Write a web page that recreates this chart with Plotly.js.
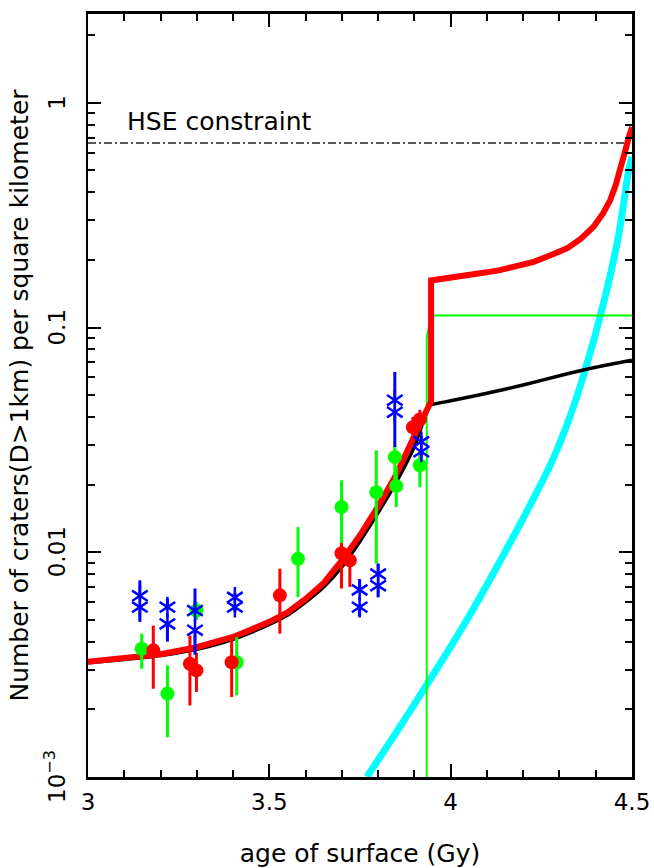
<!DOCTYPE html>
<html>
<head>
<meta charset="utf-8">
<script src="https://cdn.plot.ly/plotly-3.0.1.min.js"></script>
<style>html,body{margin:0;padding:0;background:#fff;}#chart{width:654px;height:868px;}</style>
</head>
<body>
<div id="chart"></div>
<script>
// ---- data ----
const blackT = [3.00, 3.10, 3.20, 3.30, 3.40, 3.50, 3.55, 3.60, 3.65, 3.70, 3.75, 3.80, 3.85, 3.90, 3.938, 3.945, 4.00, 4.10, 4.20, 4.30, 4.40, 4.50];
const blackN = [0.00322, 0.00333, 0.00347, 0.00370, 0.00410, 0.00478, 0.00525, 0.00600, 0.00700, 0.00860, 0.0112, 0.0150, 0.0205, 0.0295, 0.0440, 0.0452, 0.0472, 0.0510, 0.0555, 0.0610, 0.0665, 0.0715];

const redCurveT = [3.00, 3.10, 3.20, 3.30, 3.40, 3.50, 3.55, 3.60, 3.65, 3.70, 3.75, 3.80, 3.85, 3.90, 3.935, 3.946, 3.946, 4.00, 4.044, 4.10, 4.136, 4.18, 4.229, 4.27, 4.321, 4.36, 4.394, 4.42, 4.440, 4.455, 4.468, 4.48, 4.491, 4.50];
const redCurveN = [0.00326, 0.00337, 0.00352, 0.00378, 0.00420, 0.00490, 0.00540, 0.00620, 0.00730, 0.0092, 0.0119, 0.0160, 0.0222, 0.0330, 0.0440, 0.0470, 0.162, 0.166, 0.171, 0.176, 0.180, 0.187, 0.196, 0.208, 0.225, 0.249, 0.281, 0.322, 0.369, 0.43, 0.502, 0.60, 0.70, 0.78];

const cyanT = [3.769, 3.85, 3.934, 4.00, 4.063, 4.136, 4.229, 4.28, 4.321, 4.367, 4.422, 4.463, 4.491, 4.50];
const cyanN = [0.00100, 0.00158, 0.00257, 0.00380, 0.00562, 0.00912, 0.0174, 0.0255, 0.0370, 0.0617, 0.129, 0.257, 0.501, 0.575];

const greenStepT = [3.934, 3.934, 3.946, 4.50];
const greenStepN = [0.0009, 0.090, 0.113, 0.113];

const hseT = [3.0, 4.5];
const hseN = [0.663, 0.663];

const redT  = [3.180, 3.281, 3.299, 3.396, 3.529, 3.699, 3.722, 3.896, 3.915];
const redN  = [0.00366, 0.00319, 0.00298, 0.00324, 0.00643, 0.0099, 0.0092, 0.036, 0.039];
const redHi = [0.00472, 0.00426, 0.00357, 0.00419, 0.00845, 0.0110, 0.0105, 0.040, 0.043];
const redLo = [0.00247, 0.00208, 0.00239, 0.00227, 0.00434, 0.0069, 0.0070, 0.031, 0.035];

const greenT  = [3.148, 3.219, 3.299, 3.410, 3.579, 3.699, 3.795, 3.846, 3.850, 3.915];
const greenN  = [0.00372, 0.00235, 0.00551, 0.00324, 0.00936, 0.0159, 0.0185, 0.0265, 0.0197, 0.0244];
const greenHi = [0.00434, 0.00314, 0.0060, 0.00419, 0.01294, 0.0209, 0.0284, 0.030, 0.024, 0.0284];
const greenLo = [0.00303, 0.00150, 0.0050, 0.00231, 0.00632, 0.0102, 0.0089, 0.020, 0.0159, 0.0195];

const blueT  = [3.143, 3.143, 3.219, 3.219, 3.295, 3.295, 3.405, 3.405, 3.749, 3.749, 3.800, 3.800, 3.846, 3.846, 3.919, 3.919];
const blueN  = [0.0064, 0.0057, 0.0057, 0.0048, 0.0055, 0.0045, 0.0063, 0.0057, 0.0068, 0.0057, 0.0080, 0.0071, 0.0475, 0.0420, 0.0310, 0.0280];
const blueHi = [0.0075, 0.0057, 0.0062, 0.0048, 0.0069, 0.0045, 0.0066, 0.0057, 0.0076, 0.0057, 0.0089, 0.0071, 0.0634, 0.0420, 0.0330, 0.0280];
const blueLo = [0.0064, 0.0049, 0.0057, 0.0040, 0.0055, 0.0035, 0.0063, 0.0054, 0.0068, 0.0052, 0.0080, 0.0063, 0.0475, 0.0294, 0.0310, 0.0262];

const yTickVals = [0.001, 0.01, 0.1, 1];
const yTickText = ['10<sup>\u22123</sup>', '0.01', '0.1', '1'];
const xTickVals = [3, 3.5, 4, 4.5];
const xTickText = ['3', '3.5', '4', '4.5'];

// ---- build ----
const up = (hi, v) => hi.map((h, i) => Math.max(0, h - v[i]));
const dn = (lo, v) => lo.map((l, i) => Math.max(0, v[i] - l));
const FONT = 'DejaVu Sans, sans-serif';

const traces = [
  {x: hseT, y: hseN, mode: 'lines', line: {color: '#222', width: 1.5, dash: '8px,3px,2px,3px'}, hoverinfo: 'skip'},
  {x: cyanT, y: cyanN, mode: 'lines', line: {color: '#00ffff', width: 7, shape: 'spline', smoothing: 0.8}},
  {x: greenStepT, y: greenStepN, mode: 'lines', line: {color: '#00ff00', width: 2}},
  {x: blackT, y: blackN, mode: 'lines', line: {color: '#000', width: 3.5, shape: 'spline', smoothing: 0.6}},
  {x: redCurveT, y: redCurveN, mode: 'lines', line: {color: '#ff0000', width: 6, shape: 'linear'}},
  {x: greenT, y: greenN, mode: 'markers', marker: {symbol: 'circle', size: 14, color: '#00ff00'},
   error_y: {type: 'data', symmetric: false, array: up(greenHi, greenN), arrayminus: dn(greenLo, greenN), color: '#00ff00', thickness: 3, width: 0}},
  {x: redT, y: redN, mode: 'markers', marker: {symbol: 'circle', size: 14, color: '#ff0000'},
   error_y: {type: 'data', symmetric: false, array: up(redHi, redN), arrayminus: dn(redLo, redN), color: '#ff0000', thickness: 3, width: 0}},
  {x: blueT, y: blueN, mode: 'markers', marker: {symbol: 'y-up-open', size: 13, color: '#0000ff', line: {color: '#0000ff', width: 2.5}},
   error_y: {type: 'data', symmetric: false, array: up(blueHi, blueN), arrayminus: dn(blueLo, blueN), color: '#0000ff', thickness: 3, width: 0}},
  {x: blueT, y: blueN, mode: 'markers', marker: {symbol: 'y-down-open', size: 13, color: '#0000ff', line: {color: '#0000ff', width: 2.5}}}
];

const annotations = [{
  x: 3.102, y: Math.log10(0.823), xref: 'x', yref: 'y', xanchor: 'left', yanchor: 'middle',
  text: 'HSE constraint', showarrow: false, font: {family: FONT, size: 25, color: '#000'}
}];
yTickVals.forEach((v, i) => annotations.push({
  x: 0, xref: 'paper', y: Math.log10(v), yref: 'y', xanchor: 'right', yanchor: 'middle',
  xshift: -16, textangle: -90, text: yTickText[i], showarrow: false,
  font: {family: FONT, size: 23, color: '#000'}
}));

const layout = {
  width: 654, height: 868,
  margin: {l: 88, r: 22, t: 14, b: 91},
  paper_bgcolor: '#fff', plot_bgcolor: '#fff',
  showlegend: false,
  font: {family: FONT, size: 23, color: '#000'},
  xaxis: {
    range: [3, 4.5], tickmode: 'array', tickvals: xTickVals, ticktext: xTickText,
    ticks: 'inside', ticklen: 13, tickwidth: 2, tickcolor: '#000',
    minor: {dtick: 0.1, tick0: 3, ticks: 'inside', ticklen: 7, tickwidth: 2, tickcolor: '#000', showgrid: false},
    showline: true, linewidth: 3, linecolor: '#000', mirror: 'ticks',
    showgrid: false, zeroline: false, ticklabelstandoff: 2,
    tickfont: {family: FONT, size: 23},
    title: {text: 'age of surface (Gy)', font: {family: FONT, size: 25}, standoff: 36}
  },
  yaxis: {
    type: 'log', range: [-3, 0.395], tickmode: 'array', tickvals: yTickVals, ticktext: yTickText,
    showticklabels: false,
    ticks: 'inside', ticklen: 13, tickwidth: 2, tickcolor: '#000',
    minor: {dtick: 'D1', ticks: 'inside', ticklen: 7, tickwidth: 2, tickcolor: '#000', showgrid: false},
    showline: true, linewidth: 2.5, linecolor: '#000', mirror: 'ticks',
    showgrid: false, zeroline: false,
    title: {text: 'Number of craters(D>1km) per square kilometer', font: {family: FONT, size: 25}, standoff: 50}
  },
  annotations: annotations
};

Plotly.newPlot('chart', traces, layout, {displayModeBar: false, staticPlot: true});
</script>
</body>
</html>
